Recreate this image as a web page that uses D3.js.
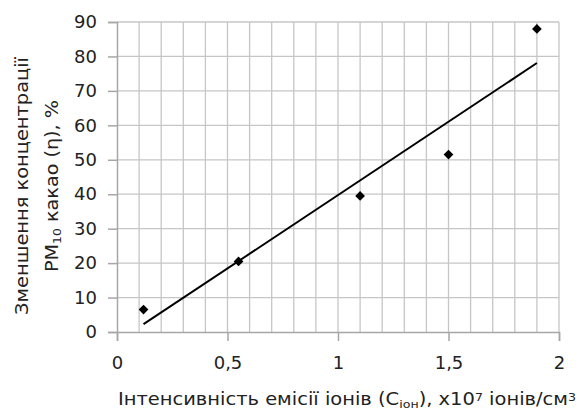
<!DOCTYPE html>
<html>
<head>
<meta charset="utf-8">
<script src="https://cdn.jsdelivr.net/npm/d3@7"></script>
<style>
  body { margin: 0; background: #fff; }
  text { font-family: "DejaVu Sans", sans-serif; fill: #222; }
</style>
</head>
<body>
<script>
const width = 578;
const height = 413;
const margin = {top: 22, right: 19, bottom: 81, left: 117};

// data
const xValues = [0.12, 0.55, 1.10, 1.50, 1.90];
const yValues = [6.5, 20.5, 39.5, 51.5, 88.0];
const xTicks = [0, 0.5, 1, 1.5, 2];
const yTicks = [0, 10, 20, 30, 40, 50, 60, 70, 80, 90];

const points = xValues.map((x, i) => ({x: x, y: yValues[i]}));

const xScale = d3.scaleLinear().domain([0, 2]).range([margin.left, width - margin.right]);
const yScale = d3.scaleLinear().domain([0, 90]).range([height - margin.bottom, margin.top]);

const svg = d3.select('body').append('svg')
    .attr('width', width)
    .attr('height', height);

//vertical grid (every 0.1)
svg.append('g')
    .selectAll('line')
    .data(d3.range(1, 21).map(i => i / 10))
    .enter().append('line')
        .attr('x1', d => xScale(d)).attr('x2', d => xScale(d))
        .attr('y1', yScale(90)).attr('y2', yScale(0))
        .attr('stroke', '#c6c6c6').attr('stroke-width', 1.3);

//horizontal grid
svg.append('g')
    .selectAll('line')
    .data(yTicks.slice(1))
    .enter().append('line')
        .attr('x1', xScale(0)).attr('x2', xScale(2))
        .attr('y1', d => yScale(d)).attr('y2', d => yScale(d))
        .attr('stroke', '#c6c6c6').attr('stroke-width', 1.3);

//x axis
const xAxis = d3.axisBottom(xScale)
    .tickValues(xTicks)
    .tickSize(9)
    .tickPadding(15)
    .tickFormat(d => String(d).replace('.', ','));
const gx = svg.append('g')
    .attr('transform', `translate(0, ${yScale(0)})`)
    .call(xAxis);
gx.select('.domain').attr('stroke', '#a6a6a6').attr('stroke-width', 1.5);
gx.selectAll('.tick line').attr('stroke', '#a6a6a6').attr('stroke-width', 1.5);
gx.selectAll('.tick text').style('font-size', '18px').attr('fill', '#222');

//y axis
const yAxis = d3.axisLeft(yScale)
    .tickValues(yTicks)
    .tickSize(9)
    .tickPadding(11);
const gy = svg.append('g')
    .attr('transform', `translate(${xScale(0)}, 0)`)
    .call(yAxis);
gy.select('.domain').attr('stroke', '#a6a6a6').attr('stroke-width', 1.5);
gy.selectAll('.tick line').attr('stroke', '#a6a6a6').attr('stroke-width', 1.5);
gy.selectAll('.tick text').style('font-size', '18px').attr('fill', '#222');

//linear trend line
const mx = d3.mean(xValues), my = d3.mean(yValues);
const slope = d3.sum(points, p => (p.x - mx) * (p.y - my)) / d3.sum(points, p => (p.x - mx) * (p.x - mx));
const intercept = my - slope * mx;
const xr = d3.extent(xValues);
svg.append('line')
    .attr('x1', xScale(xr[0])).attr('y1', yScale(intercept + slope * xr[0]))
    .attr('x2', xScale(xr[1])).attr('y2', yScale(intercept + slope * xr[1]))
    .attr('stroke', '#000').attr('stroke-width', 2);

//markers
svg.selectAll('path.pt')
    .data(points)
    .enter().append('path')
        .attr('class', 'pt')
        .attr('d', d3.symbol().type(d3.symbolDiamond2).size(60))
        .attr('transform', d => `translate(${xScale(d.x)}, ${yScale(d.y)})`)
        .attr('fill', '#000');

//x label
const xl = svg.append('text')
    .attr('x', 347)
    .attr('y', 405)
    .attr('text-anchor', 'middle')
    .attr('textLength', 458)
    .attr('lengthAdjust', 'spacingAndGlyphs')
    .style('font-size', '17px');
xl.append('tspan').text('Інтенсивність емісії  іонів (C');
xl.append('tspan').attr('baseline-shift', '-25%').style('font-size', '11px').text('іон');
xl.append('tspan').text('), x10');
xl.append('tspan').attr('baseline-shift', '40%').style('font-size', '11px').text('7');
xl.append('tspan').text(' іонів/см');
xl.append('tspan').attr('baseline-shift', '40%').style('font-size', '11px').text('3');

//y label
const yl = svg.append('g').attr('transform', 'translate(0, 186) rotate(-90)');
yl.append('text')
    .attr('x', 0).attr('y', 28)
    .attr('text-anchor', 'middle')
    .attr('textLength', 258)
    .attr('lengthAdjust', 'spacingAndGlyphs')
    .style('font-size', '17px')
    .text('Зменшення концентрації');
const yl2 = yl.append('text')
    .attr('x', 0).attr('y', 58)
    .attr('text-anchor', 'middle')
    .attr('textLength', 172)
    .attr('lengthAdjust', 'spacingAndGlyphs')
    .style('font-size', '17px');
yl2.append('tspan').text('PM');
yl2.append('tspan').attr('baseline-shift', '-25%').style('font-size', '11px').text('10');
yl2.append('tspan').text(' какао (η), %');
</script>
</body>
</html>
